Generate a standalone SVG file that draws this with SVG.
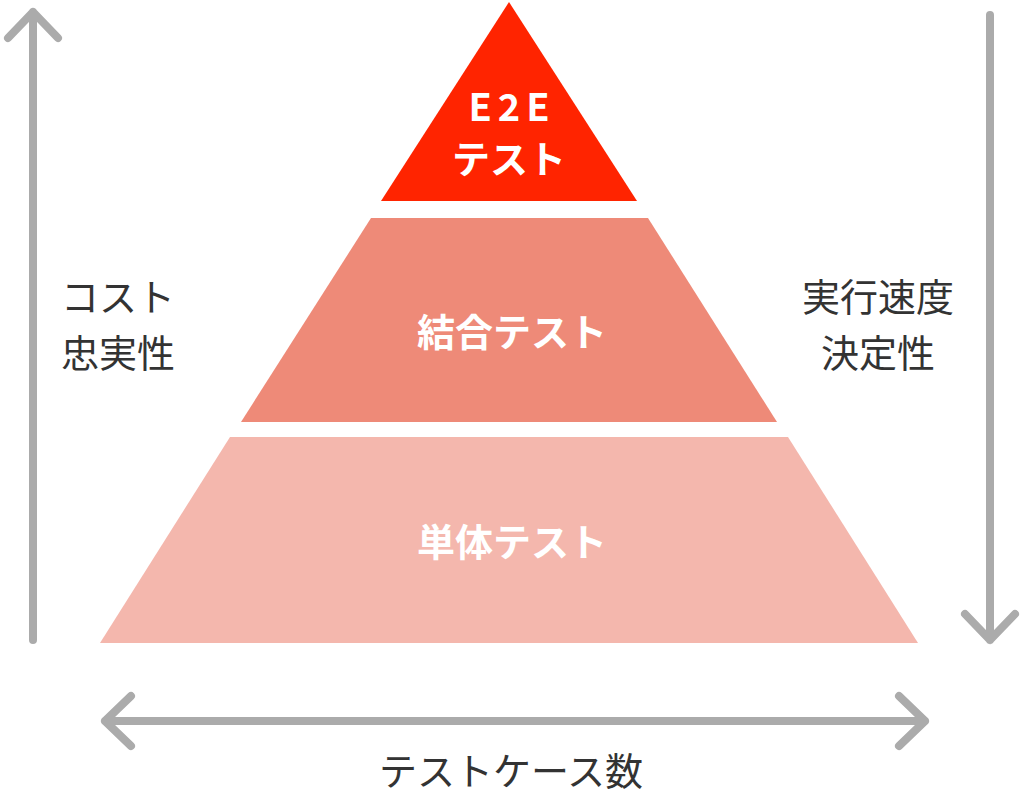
<svg xmlns="http://www.w3.org/2000/svg" width="1024" height="796" viewBox="0 0 1024 796">
<style>
.ar{fill:none;stroke:#ababab;stroke-width:8;stroke-linecap:round;stroke-linejoin:round}
.w{fill:#fff;font-family:"Noto Sans CJK JP","Noto Sans",sans-serif;font-weight:bold;font-size:38px;text-anchor:middle}
.l{fill:#333;font-family:"Noto Sans CJK JP","Noto Sans",sans-serif;font-size:38px;text-anchor:middle}
</style>
<rect width="1024" height="796" fill="#fff"/>
<g id="connectors">
<path class="ar" d="M33 640V12M8 38L33 12L58 38"/>
<path class="ar" d="M990 15V640M965 614L990 640L1015 614"/>
<path class="ar" d="M105 721H925M131 696L105 721L131 746M899 696L925 721L899 746"/>
</g>
<g id="e2e"><polygon points="509,2 637,201 381,201" fill="#ff2400"/>
<text class="w" x="512" y="121" font-size="32" letter-spacing="6">E2E</text><text class="w" x="509" y="173" font-size="36">テスト</text></g>
<g id="integration"><polygon points="371,218 648,218 777,422 241,422" fill="#ee8a78"/>
<text class="w" x="512" y="346">結合テスト</text></g>
<g id="unit"><polygon points="230,437 788,437 918,643 100,643" fill="#f4b7ad"/>
<text class="w" x="512" y="556">単体テスト</text></g>
<g id="left"><text class="l" x="118" y="311">コスト</text><text class="l" x="118" y="367">忠実性</text></g>
<g id="right"><text class="l" x="878" y="311">実行速度</text><text class="l" x="878" y="367">決定性</text></g>
<g id="bottom"><text class="l" x="511" y="785" font-size="40">テストケース数</text></g>
</svg>
